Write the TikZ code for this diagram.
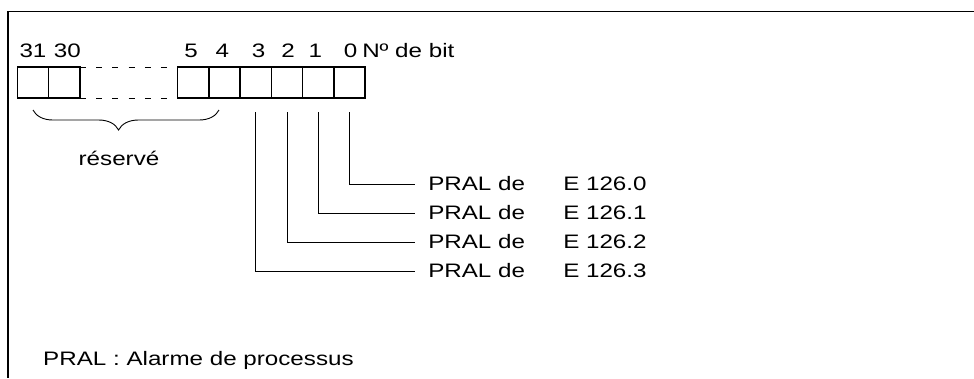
\documentclass[tikz,border=0pt]{standalone}
\usepackage{fontspec}
\setmainfont{Liberation Sans}
\usepackage{tikz}
\usetikzlibrary{positioning,decorations.pathreplacing}

\begin{document}
\begin{tikzpicture}[x=1pt,y=-1pt,line cap=butt,line join=miter,
  bitbox/.style={draw,line width=1.6pt,minimum width=31.3pt,minimum height=31pt,inner sep=0pt,outer sep=0pt},
  txt/.style={font=\fontsize{19.5}{22}\selectfont,inner sep=0pt,xscale=1.24},
  fio/.style={line width=0.9pt,shorten <=14pt,shorten >=13pt}]

% parâmetros
\def\lt{1.6pt}   % traço grosso
\def\ld{0.9pt}   % traço fino

\useasboundingbox (0,0) rectangle (974,378);

%---------------------------
% moldura
%---------------------------
\draw[line width=\lt] (974,11.5) -- (8,11.5) -- (8,378);

%---------------------------
% caixas dos bits
%---------------------------
\node[bitbox] (b0) at (349.6,82.5) {};
\node[bitbox,left=0pt of b0] (b1) {};
\node[bitbox,left=0pt of b1] (b2) {};
\node[bitbox,left=0pt of b2] (b3) {};
\node[bitbox,left=0pt of b3] (b4) {};
\node[bitbox,left=0pt of b4] (b5) {};
\node[bitbox] (b31) at (33,82.5) {};
\node[bitbox,right=0pt of b31] (b30) {};

% trecho tracejado
\draw[line width=\ld,dash pattern=on 6pt off 10.2pt] (b30.north east) -- (b5.north west);
\draw[line width=\ld,dash pattern=on 6pt off 10.2pt] (b30.south east) -- (b5.south west);

%---------------------------
% números dos bits
%---------------------------
\foreach \n/\dx in {31/0,30/3,5/-2,4/-2,3/3,2/1,1/-3,0/1}
  \node[txt,anchor=base] at ([xshift=\dx pt,yshift=10pt]b\n.north) {\n};
\node[txt,anchor=base west] (nbit) at (362,57) {Nº de bit};

%---------------------------
% chave: reservado
%---------------------------
\coordinate (ra) at (33,110);
\coordinate (rb) at (219,110);
\draw[line width=\ld,decorate,decoration={brace,mirror,amplitude=20pt,aspect=0.46}] (ra) -- (rb);
\node[txt,anchor=base] (res) at (119,165) {réservé};

%---------------------------
% alarmes
%---------------------------
\foreach \i/\y in {0/184,1/213,2/242,3/271}{
  \node[txt,anchor=west] (p\i) at (428,\y) {PRAL de};
  \node[txt,anchor=west] (e\i) at (563,\y) {E 126.\i};
  \draw[fio] (b\i.south) |- (p\i.west);
}

%---------------------------
% legenda
%---------------------------
\node[txt,anchor=base west] (leg) at (43,365) {PRAL : Alarme de processus};

\end{tikzpicture}
\end{document}
